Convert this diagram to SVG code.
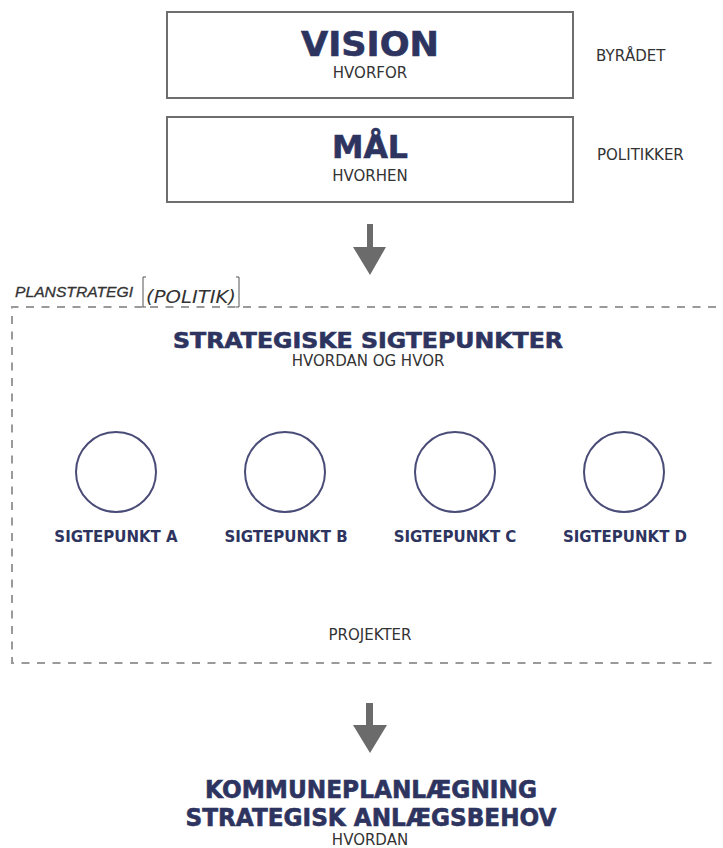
<svg xmlns="http://www.w3.org/2000/svg" width="723" height="848" viewBox="0 0 723 848">
<style>
.box{fill:#fff;stroke:#6e6e6e;stroke-width:2}
.h{font-family:"DejaVu Sans",Verdana,sans-serif;font-weight:bold;fill:#2e3460;stroke:#2e3460;stroke-width:0.6;text-anchor:middle}
.s{font-family:"DejaVu Sans",Tahoma,sans-serif;font-size:15px;fill:#333;text-anchor:middle}
.side{font-family:"DejaVu Sans",Tahoma,sans-serif;font-size:15px;fill:#333}
.c{fill:#fff;stroke:#4a4c78;stroke-width:2}
.lbl{font-family:"DejaVu Sans",Verdana,sans-serif;font-weight:bold;font-size:15px;fill:#2e3460;text-anchor:middle}
.arrow{fill:#6b6b6b}
</style>
<rect width="723" height="848" fill="#fff"/>
<g id="vision">
<rect class="box" x="167" y="12" width="406" height="86"/>
<text class="h" x="370" y="56" font-size="33" textLength="138" lengthAdjust="spacingAndGlyphs">VISION</text>
<text class="s" x="370" y="78">HVORFOR</text>
</g>
<g id="maal">
<rect class="box" x="167" y="117" width="406" height="85"/>
<text class="h" x="370" y="158" font-size="32" textLength="76" lengthAdjust="spacingAndGlyphs">MÅL</text>
<text class="s" x="370" y="181">HVORHEN</text>
</g>
<g id="byraadet"><text class="side" x="596" y="61">BYRÅDET</text></g>
<g id="politikker"><text class="side" x="597" y="160">POLITIKKER</text></g>
<g id="planstrategi">
<path d="M716,307 H12 V663 H716" fill="none" stroke="#9a9a9a" stroke-width="2" stroke-dasharray="8,7.5"/>
<text x="15" y="297" font-family="'Liberation Sans',Arial,sans-serif" font-style="italic" font-size="15" fill="#333" stroke="#333" stroke-width="0.3" textLength="118" lengthAdjust="spacingAndGlyphs">PLANSTRATEGI</text>
<path d="M146,277 H143 V307 H146 M236,277 H239 V307 H236" fill="none" stroke="#555" stroke-width="1"/>
<text x="146" y="303" font-family="'DejaVu Sans',Verdana,sans-serif" font-style="italic" font-size="17" fill="#333" textLength="90" lengthAdjust="spacingAndGlyphs">(POLITIK)</text>
<text class="h" x="368" y="348" font-size="21" textLength="390" lengthAdjust="spacingAndGlyphs">STRATEGISKE SIGTEPUNKTER</text>
<text class="s" x="368" y="366">HVORDAN OG HVOR</text>
<text class="s" x="370" y="640">PROJEKTER</text>
</g>
<g id="sigtepunkt-a"><circle class="c" cx="116" cy="472" r="40"/><text class="lbl" x="116" y="542">SIGTEPUNKT A</text></g>
<g id="sigtepunkt-b"><circle class="c" cx="285" cy="472" r="40"/><text class="lbl" x="286" y="542">SIGTEPUNKT B</text></g>
<g id="sigtepunkt-c"><circle class="c" cx="455" cy="472" r="40"/><text class="lbl" x="455" y="542">SIGTEPUNKT C</text></g>
<g id="sigtepunkt-d"><circle class="c" cx="624" cy="472" r="40"/><text class="lbl" x="625" y="542">SIGTEPUNKT D</text></g>
<g id="kommuneplan">
<text class="h" x="371" y="798" font-size="24" textLength="332" lengthAdjust="spacingAndGlyphs">KOMMUNEPLANLÆGNING</text>
<text class="h" x="371" y="826" font-size="24" textLength="371" lengthAdjust="spacingAndGlyphs">STRATEGISK ANLÆGSBEHOV</text>
<text class="s" x="370" y="845">HVORDAN</text>
</g>
<g id="connectors">
<path class="arrow" d="M367,224 H373 V247 H386 L370,275 L353,247 H367 Z"/>
<path class="arrow" d="M366,703 H373 V725 H387 L370,753 L353,725 H366 Z"/>
</g>
</svg>
